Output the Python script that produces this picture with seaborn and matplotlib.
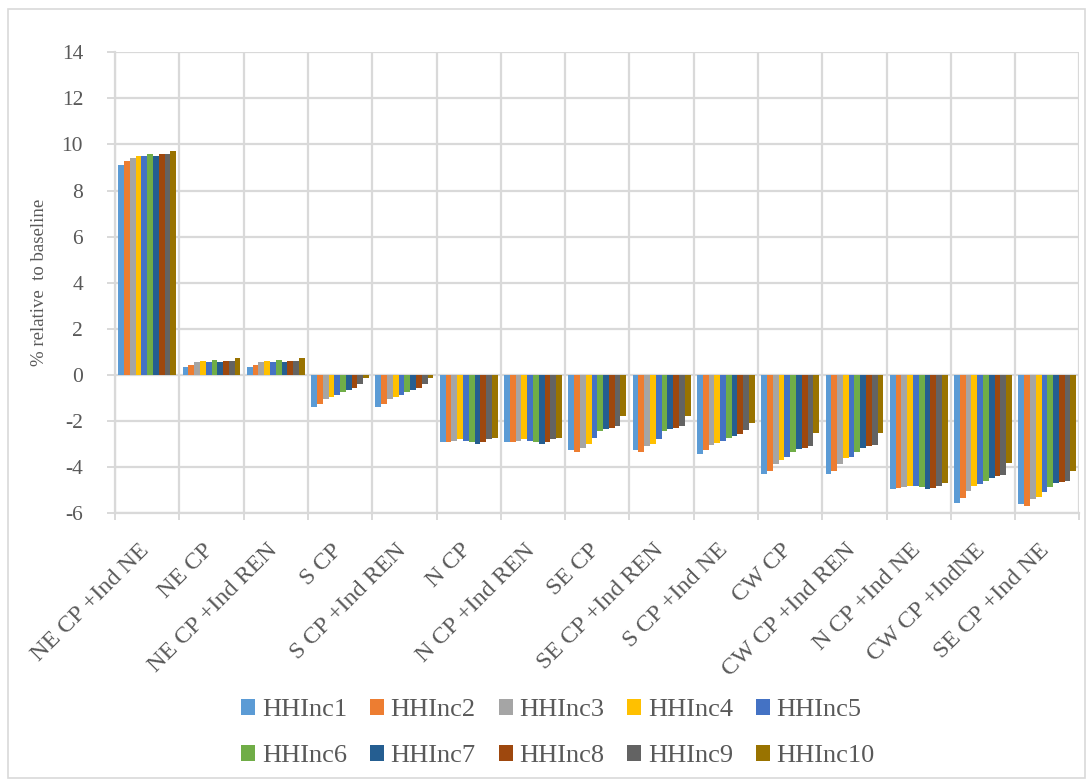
import numpy as np
import pandas as pd
import matplotlib
matplotlib.use("Agg")
import matplotlib.pyplot as plt
from matplotlib.patches import Rectangle
from matplotlib.ticker import MultipleLocator, FixedLocator
from matplotlib.transforms import ScaledTranslation
import seaborn as sns

scenarios = ["NE CP +Ind NE", "NE CP", "NE CP +Ind REN", "S CP", "S CP +Ind REN",
             "N CP", "N CP +Ind REN", "SE CP", "SE CP +Ind REN", "S CP +Ind NE",
             "CW CP", "CW CP +Ind REN", "N CP +Ind NE", "CW CP +IndNE", "SE CP +Ind NE"]

series_names = ["HHInc1", "HHInc2", "HHInc3", "HHInc4", "HHInc5",
                "HHInc6", "HHInc7", "HHInc8", "HHInc9", "HHInc10"]

# % change relative to baseline, one list per scenario (HHInc1 .. HHInc10)
ne_cp_ind_ne = [9.1, 9.3, 9.4, 9.5, 9.5, 9.6, 9.5, 9.6, 9.6, 9.7]
ne_cp = [0.35, 0.45, 0.55, 0.6, 0.55, 0.65, 0.55, 0.6, 0.6, 0.75]
ne_cp_ind_ren = [0.35, 0.45, 0.55, 0.6, 0.55, 0.65, 0.55, 0.6, 0.6, 0.75]
s_cp = [-1.4, -1.25, -1.05, -0.95, -0.85, -0.75, -0.65, -0.55, -0.4, -0.15]
s_cp_ind_ren = [-1.4, -1.25, -1.05, -0.95, -0.85, -0.75, -0.65, -0.55, -0.4, -0.15]
n_cp = [-2.9, -2.9, -2.85, -2.8, -2.85, -2.9, -3.0, -2.9, -2.8, -2.75]
n_cp_ind_ren = [-2.9, -2.9, -2.85, -2.8, -2.85, -2.9, -3.0, -2.9, -2.8, -2.75]
se_cp = [-3.25, -3.35, -3.15, -3.0, -2.75, -2.45, -2.35, -2.3, -2.2, -1.8]
se_cp_ind_ren = [-3.25, -3.35, -3.1, -3.0, -2.8, -2.45, -2.35, -2.3, -2.2, -1.8]
s_cp_ind_ne = [-3.45, -3.25, -3.05, -2.95, -2.85, -2.75, -2.65, -2.55, -2.4, -2.1]
cw_cp = [-4.3, -4.15, -3.85, -3.7, -3.55, -3.35, -3.2, -3.15, -3.1, -2.5]
cw_cp_ind_ren = [-4.3, -4.15, -3.85, -3.6, -3.55, -3.35, -3.15, -3.1, -3.05, -2.5]
n_cp_ind_ne = [-4.95, -4.9, -4.85, -4.8, -4.8, -4.85, -4.95, -4.9, -4.8, -4.7]
cw_cp_indne = [-5.55, -5.35, -5.05, -4.8, -4.75, -4.6, -4.45, -4.4, -4.35, -3.8]
se_cp_ind_ne = [-5.6, -5.7, -5.4, -5.3, -5.1, -4.85, -4.7, -4.65, -4.6, -4.15]

values = [ne_cp_ind_ne, ne_cp, ne_cp_ind_ren, s_cp, s_cp_ind_ren, n_cp, n_cp_ind_ren,
          se_cp, se_cp_ind_ren, s_cp_ind_ne, cw_cp, cw_cp_ind_ren, n_cp_ind_ne,
          cw_cp_indne, se_cp_ind_ne]

colors = ["#5B9BD5", "#ED7D31", "#A5A5A5", "#FFC000", "#4472C4",
          "#70AD47", "#255E91", "#9E480E", "#636363", "#997300"]

rows = []
for scen, vals in zip(scenarios, values):
    for name, v in zip(series_names, vals):
        rows.append({"scenario": scen, "series": name, "value": v})
df = pd.DataFrame(rows)

sns.set_theme(style="white")
plt.rcParams["font.family"] = ["Liberation Serif", "DejaVu Serif"]
plt.rcParams["axes.unicode_minus"] = False

text_color = "#595959"
grid_color = "#D9D9D9"

fig = plt.figure(figsize=(10.86, 7.8), dpi=100)
ax = fig.add_axes([0.106, 0.342, 0.888, 0.591])

sns.barplot(data=df, x="scenario", y="value", hue="series", order=scenarios,
            hue_order=series_names, palette=colors, width=0.9, gap=0,
            linewidth=0, saturation=1, errorbar=None, ax=ax, legend=True)

ax.set_ylim(-6, 14)
ax.set_xlim(-0.5, len(scenarios) - 0.5)
ax.yaxis.set_major_locator(MultipleLocator(2))
ax.xaxis.set_minor_locator(FixedLocator(np.arange(-0.5, len(scenarios), 1.0)))

ax.grid(False)
ax.yaxis.grid(True, which="major", color=grid_color, linewidth=1.6)
ax.xaxis.grid(True, which="minor", color=grid_color, linewidth=1.6)
ax.set_axisbelow(True)

for side in ["top", "right"]:
    ax.spines[side].set_visible(False)
for side in ["left", "bottom"]:
    ax.spines[side].set_color(grid_color)
    ax.spines[side].set_linewidth(1.6)

ax.tick_params(axis="y", which="major", left=True, length=6, width=1.4,
               color=grid_color, labelsize=15.5, labelcolor=text_color, pad=17)
ax.tick_params(axis="x", which="major", bottom=False, labelsize=17.3,
               labelcolor=text_color, pad=13)
ax.tick_params(axis="x", which="minor", bottom=True, length=5, width=1.4,
               color=grid_color)

ax.set_xticks(range(len(scenarios)))
ax.set_xticklabels(scenarios, rotation=45, ha="right", rotation_mode="anchor")

# end each slanted label right under its column group
for lab in ax.get_xticklabels():
    lab.set_transform(lab.get_transform() + ScaledTranslation(-0.09, 0, fig.dpi_scale_trans))

ax.set_xlabel("")
ax.set_ylabel("% relative  to baseline", fontsize=13.5, color=text_color, labelpad=10)

handles, labels = ax.get_legend_handles_labels()
ax.get_legend().remove()
# two rows of five, filled row by row
order = [0, 5, 1, 6, 2, 7, 3, 8, 4, 9]
fig.legend([handles[k] for k in order], [labels[k] for k in order],
           loc="center", bbox_to_anchor=(0.514, 0.06), ncol=5,
           frameon=False, fontsize=19, labelcolor=text_color,
           handlelength=0.53, handleheight=0.53, handletextpad=0.25,
           columnspacing=0.87, labelspacing=0.9)

fig.patches.append(Rectangle((0.007, 0.003), 0.992, 0.985, transform=fig.transFigure,
                             fill=False, edgecolor=grid_color, linewidth=1.2))

fig.savefig("out.png", dpi=100, facecolor="white")
